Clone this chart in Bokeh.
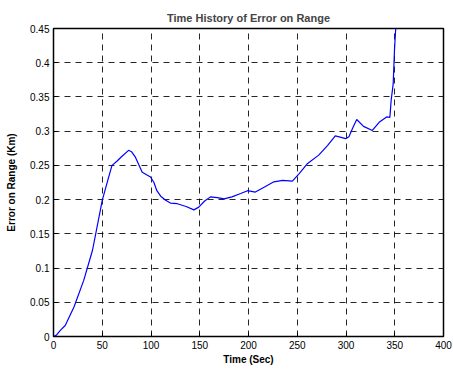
from bokeh.plotting import figure
from bokeh.embed import file_html
from bokeh.resources import INLINE
from bokeh.models import Range1d, FixedTicker

time_s = [0, 3, 7, 12, 21, 31, 40, 50, 56, 60, 65, 70, 77, 80, 84, 91, 99.5, 103, 106, 110,
          115, 120, 127, 136, 144, 149, 155, 161, 168, 175, 183, 192, 199, 207, 216, 226, 235,
          245, 252, 260, 272, 281, 289, 295, 299.5, 303, 307, 311, 318, 327, 334, 342, 345,
          346.3, 348.4, 349.7, 351, 352.5]
err_km = [0, 0.002, 0.009, 0.016, 0.043, 0.082, 0.126, 0.199, 0.23, 0.25, 0.256, 0.263, 0.272,
          0.270, 0.262, 0.240, 0.233, 0.225, 0.213, 0.205, 0.199, 0.195, 0.194, 0.19, 0.185,
          0.189, 0.198, 0.204, 0.203, 0.201, 0.204, 0.209, 0.213, 0.211, 0.218, 0.226, 0.228,
          0.227, 0.238, 0.252, 0.265, 0.279, 0.293, 0.291, 0.289, 0.292, 0.305, 0.317, 0.307,
          0.301, 0.313, 0.321, 0.320, 0.345, 0.369, 0.418, 0.45, 0.49]
x_ticks = [0, 50, 100, 150, 200, 250, 300, 350, 400]
y_ticks = [0, 0.05, 0.1, 0.15, 0.2, 0.25, 0.3, 0.35, 0.4, 0.45]

FONT = "Liberation Sans"

p = figure(width=453, height=370, output_backend="svg", toolbar_location=None,
           x_range=Range1d(0, 400), y_range=Range1d(0, 0.45),
           min_border_left=53, min_border_right=10, min_border_top=28, min_border_bottom=34,
           title="Time History of Error on Range")

p.title.text_font = FONT
p.title.text_font_size = "11px"
p.title.text_font_style = "bold"
p.title.align = "center"
p.title.offset = 0
p.title.standoff = 9

p.background_fill_color = "white"
p.border_fill_color = "white"
p.outline_line_color = "black"
p.outline_line_width = 1.5

p.line(time_s, err_km, line_color="#0000ff", line_width=1.2)

for ax in (p.xaxis[0], p.yaxis[0]):
    ax.axis_line_color = "black"
    ax.major_tick_in = 4
    ax.major_tick_out = 0
    ax.minor_tick_line_color = None
    ax.major_label_text_font = FONT
    ax.major_label_text_font_size = "10px"
    ax.major_label_text_color = "black"
    ax.axis_label_text_font = FONT
    ax.axis_label_text_font_size = "10px"
    ax.axis_label_text_font_style = "bold"
    ax.axis_label_text_color = "black"

p.xaxis.ticker = FixedTicker(ticks=x_ticks)
p.yaxis.ticker = FixedTicker(ticks=y_ticks)
p.xaxis.major_label_overrides = {t: str(t) for t in x_ticks}
p.yaxis.major_label_overrides = {t: ("0" if t == 0 else f"{t:g}") for t in y_ticks}
p.xaxis.axis_label = "Time (Sec)"
p.yaxis.axis_label = "Error on Range (Km)"
p.xaxis.major_label_standoff = 4
p.yaxis.major_label_standoff = 4
p.xaxis.axis_label_standoff = 2
p.yaxis.axis_label_standoff = 10

p.grid.grid_line_color = "black"
p.grid.grid_line_dash = "6 5"
p.grid.grid_line_width = 1
p.grid.grid_line_alpha = 0.85

open("out.html", "w").write(file_html(p, INLINE))
